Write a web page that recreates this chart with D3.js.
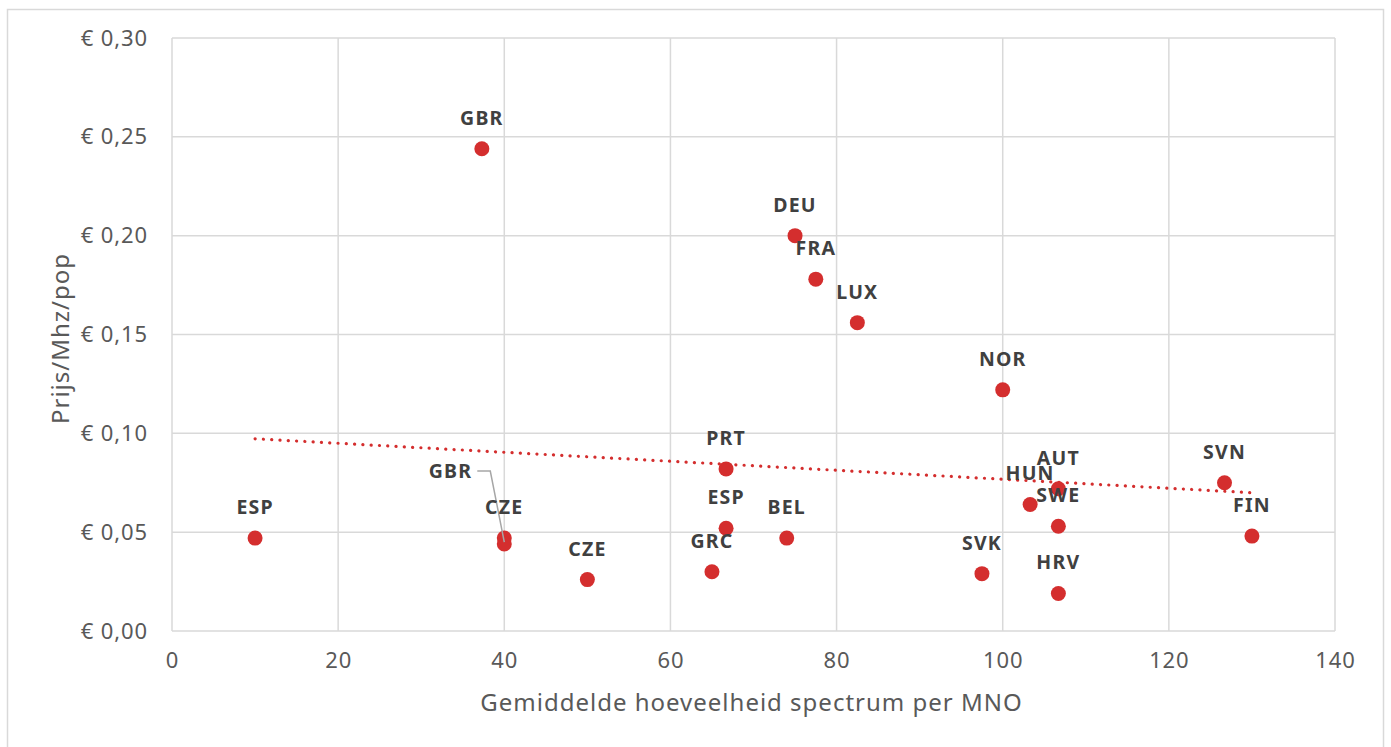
<!DOCTYPE html>
<html>
<head>
<meta charset="utf-8">
<script src="https://cdn.jsdelivr.net/npm/d3@7"></script>
<style>
  body { margin: 0; background: #fff; }
  text { font-family: "Noto Sans", "Open Sans", sans-serif; }
</style>
</head>
<body>
<div id="scatter"></div>
<script>
// data
var countries = ["ESP", "GBR", "CZE", "GBR", "CZE", "GRC", "ESP", "PRT", "BEL", "DEU",
                 "FRA", "LUX", "NOR", "SVK", "HUN", "AUT", "SWE", "HRV", "SVN", "FIN"];
var spectrum = [10, 37.3, 40, 40, 50, 65, 66.7, 66.7, 74, 75,
                77.5, 82.5, 100, 97.5, 103.3, 106.7, 106.7, 106.7, 126.7, 130];
var price = [0.047, 0.244, 0.047, 0.044, 0.026, 0.030, 0.052, 0.082, 0.047, 0.200,
             0.178, 0.156, 0.122, 0.029, 0.064, 0.072, 0.053, 0.019, 0.075, 0.048];
var xTicks = [0, 20, 40, 60, 80, 100, 120, 140];
var yTicks = [0, 0.05, 0.10, 0.15, 0.20, 0.25, 0.30];

var svgWidth = 1391;
var svgHeight = 747;
var margin = { top: 38, right: 56, bottom: 116, left: 172 };
var width = svgWidth - margin.left - margin.right;
var height = svgHeight - margin.top - margin.bottom;

var svg = d3.select("#scatter")
    .append("svg")
    .attr("width", svgWidth)
    .attr("height", svgHeight);

// outer frame
svg.append("rect")
    .attr("x", 7.5).attr("y", 9.5)
    .attr("width", 1376).attr("height", 760)
    .attr("fill", "none")
    .attr("stroke", "#d9d9d9")
    .attr("stroke-width", 1.5);

var chartGroup = svg.append("g")
    .attr("transform", `translate(${margin.left}, ${margin.top})`);

var xScale = d3.scaleLinear().domain([0, 140]).range([0, width]);
var yScale = d3.scaleLinear().domain([0, 0.30]).range([height, 0]);

// grid
chartGroup.append("g").selectAll("line")
    .data(yTicks).enter().append("line")
    .attr("x1", 0).attr("x2", width)
    .attr("y1", d => yScale(d)).attr("y2", d => yScale(d))
    .attr("stroke", "#d9d9d9").attr("stroke-width", 1.5);
chartGroup.append("g").selectAll("line")
    .data(xTicks).enter().append("line")
    .attr("x1", d => xScale(d)).attr("x2", d => xScale(d))
    .attr("y1", 0).attr("y2", height)
    .attr("stroke", "#d9d9d9").attr("stroke-width", 1.5);

var euro = d3.format(".2f");
var leftAxis = d3.axisLeft(yScale).tickValues(yTicks).tickSize(0).tickPadding(24)
    .tickFormat(d => "€ " + euro(d).replace(".", ","));
var bottomAxis = d3.axisBottom(xScale).tickValues(xTicks).tickSize(0).tickPadding(21);

chartGroup.append("g").call(leftAxis)
    .call(g => g.select(".domain").remove())
    .selectAll("text").attr("font-size", "22px").attr("fill", "#595959")
    .attr("letter-spacing", "0.9px")
    .attr("font-family", "'Noto Sans', sans-serif");
chartGroup.append("g").attr("transform", `translate(0, ${height})`).call(bottomAxis)
    .call(g => g.select(".domain").remove())
    .selectAll("text").attr("font-size", "22px").attr("fill", "#595959")
    .attr("letter-spacing", "0.9px")
    .attr("font-family", "'Noto Sans', sans-serif");

// linear trendline
var n = spectrum.length;
var mx = d3.mean(spectrum), my = d3.mean(price);
var sxy = 0, sxx = 0;
for (var i = 0; i < n; i++) {
    sxy += (spectrum[i] - mx) * (price[i] - my);
    sxx += (spectrum[i] - mx) * (spectrum[i] - mx);
}
var slope = sxy / sxx, icpt = my - slope * mx;
var xr = d3.extent(spectrum);
chartGroup.append("line")
    .attr("x1", xScale(xr[0])).attr("y1", yScale(icpt + slope * xr[0]))
    .attr("x2", xScale(xr[1])).attr("y2", yScale(icpt + slope * xr[1]))
    .attr("stroke", "#d42e2e").attr("stroke-width", 3.2)
    .attr("stroke-linecap", "round")
    .attr("stroke-dasharray", "0.1 8.2");

var points = countries.map((c, i) => ({ c: c, x: spectrum[i], y: price[i], i: i }));

chartGroup.selectAll("circle")
    .data(points).enter().append("circle")
    .attr("cx", d => xScale(d.x))
    .attr("cy", d => yScale(d.y))
    .attr("r", 7.5)
    .attr("fill", "#d42e2e");

// the second GBR label sits off to the side with a leader line
var moved = { 3: [-32, -66] };
var g2 = points[3];
var lx = xScale(g2.x), ly = yScale(g2.y);
chartGroup.append("polyline")
    .attr("points", [[lx - 27, ly - 73], [lx - 14, ly - 73], [lx, ly - 2]].join(" "))
    .attr("fill", "none").attr("stroke", "#a6a6a6").attr("stroke-width", 1.5);

chartGroup.selectAll(".lbl")
    .data(points).enter().append("text")
    .attr("class", "lbl")
    .text(d => d.c)
    .attr("x", d => xScale(d.x) + (moved[d.i] ? moved[d.i][0] : 0))
    .attr("y", d => yScale(d.y) + (moved[d.i] ? moved[d.i][1] : -24))
    .attr("text-anchor", d => moved[d.i] ? "end" : "middle")
    .attr("font-size", "19.5px")
    .attr("letter-spacing", "1.2px")
    .attr("font-weight", "bold")
    .attr("fill", "#404040");

// axis titles
chartGroup.append("text")
    .attr("transform", "rotate(-90)")
    .attr("x", -height / 2 - 4)
    .attr("y", -103)
    .attr("text-anchor", "middle")
    .attr("font-size", "24px")
    .attr("letter-spacing", "1px")
    .attr("fill", "#595959")
    .text("Prijs/Mhz/pop");

chartGroup.append("text")
    .attr("x", width / 2 - 2)
    .attr("y", height + 80)
    .attr("text-anchor", "middle")
    .attr("font-size", "24px")
    .attr("letter-spacing", "1px")
    .attr("fill", "#595959")
    .text("Gemiddelde hoeveelheid spectrum per MNO");
</script>
</body>
</html>
